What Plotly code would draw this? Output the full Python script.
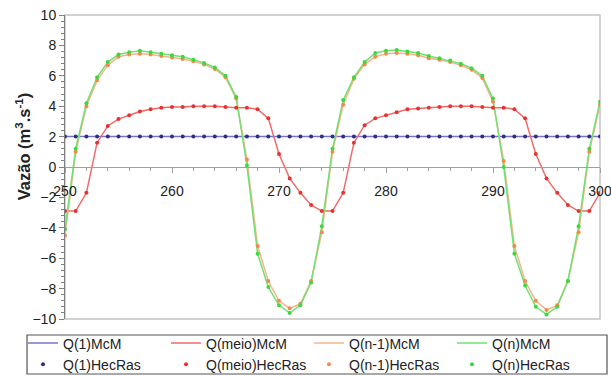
import plotly.graph_objects as go

t = list(range(250, 301))

q1 = [2.0] * 51

q_meio = [-2.9, -2.9, -1.7, 1.6, 2.7, 3.15, 3.4, 3.65, 3.8, 3.9, 3.95, 3.95, 4.0, 4.0, 4.0, 3.95, 3.9, 3.9, 3.8, 3.2, 0.85, -0.75, -1.7, -2.5,
          -2.9, -2.9, -1.7, 1.6, 2.75, 3.2, 3.4, 3.6, 3.8, 3.85, 3.9, 3.95, 4.0, 4.0, 4.0, 3.95, 3.9, 3.9, 3.8, 3.2, 0.85, -0.75, -1.7, -2.5,
          -2.9, -2.9, -1.7]

q_n1 = [-4.5, 1.0, 4.0, 5.7, 6.7, 7.25, 7.4, 7.45, 7.4, 7.3, 7.2, 7.1, 6.95, 6.75, 6.45, 5.9, 4.5, 0.5, -5.2, -7.5, -8.8, -9.3, -9.0, -7.5,
        -4.3, 1.0, 4.1, 5.8, 6.75, 7.25, 7.45, 7.5, 7.45, 7.35, 7.15, 7.05, 6.9, 6.7, 6.4, 5.85, 4.3, 0.4, -5.2, -7.5, -8.8, -9.4, -9.1, -7.5,
        -4.3, 1.0, 4.1]

q_n = [-4.1, 1.2, 4.2, 5.9, 6.9, 7.4, 7.55, 7.65, 7.55, 7.45, 7.35, 7.25, 7.05, 6.85, 6.55, 6.0, 4.6, 0.1, -5.7, -7.9, -9.1, -9.6, -9.1, -7.6,
       -3.9, 1.2, 4.4, 5.9, 6.9, 7.5, 7.65, 7.7, 7.6, 7.5, 7.3, 7.15, 7.0, 6.8, 6.5, 6.0, 4.5, 0.0, -5.7, -7.8, -9.2, -9.7, -9.2, -7.5,
       -3.9, 1.2, 4.3]

names_mcm = ["Q(1)McM", "Q(meio)McM", "Q(n-1)McM", "Q(n)McM"]
names_hec = ["Q(1)HecRas", "Q(meio)HecRas", "Q(n-1)HecRas", "Q(n)HecRas"]
series = [q1, q_meio, q_n1, q_n]
line_colors = ["#7474cc", "#f06a6a", "#f5b48e", "#72e072"]
marker_colors = ["#2e2e88", "#e83232", "#f28a4a", "#3ed83e"]

fig = go.Figure()
for name, ys, c in zip(names_mcm, series, line_colors):
    fig.add_trace(go.Scatter(x=t, y=ys, mode="lines", name=name,
                             line=dict(color=c, width=1.5)))
for name, ys, c in zip(names_hec, series, marker_colors):
    fig.add_trace(go.Scatter(x=t, y=ys, mode="markers", name=name,
                             marker=dict(color=c, size=4)))

font = dict(family="Arial, Liberation Sans, sans-serif", size=14, color="#222")

fig.update_layout(
    width=611, height=376,
    margin=dict(l=65, r=11, t=15, b=57, autoexpand=False),
    paper_bgcolor="white", plot_bgcolor="white",
    font=font,
    showlegend=True,
    legend=dict(orientation="h", x=-0.0785, y=-0.028, xanchor="left", yanchor="top",
                entrywidth=98, entrywidthmode="pixels",
                borderwidth=0, bgcolor="rgba(0,0,0,0)", font=dict(size=14),
                tracegroupgap=0, itemwidth=30),
    xaxis=dict(range=[250, 300], anchor="free", position=0.5,
               tick0=250, dtick=10, showline=True, linecolor="#a0a0a0", linewidth=1,
               ticks="outside", ticklen=5, tickcolor="#a0a0a0", ticklabelstandoff=6,
               ticklabeloverflow="allow",
               minor=dict(dtick=2, ticks="outside", ticklen=3, tickcolor="#a0a0a0"),
               showgrid=False, zeroline=False, tickfont=font),
    xaxis2=dict(range=[250, 300], overlaying="x", anchor="free", position=0.5,
                tick0=250, dtick=10, ticks="inside", ticklen=5, tickcolor="#a0a0a0",
                showticklabels=False, showgrid=False, zeroline=False, showline=False),
    yaxis=dict(range=[-10, 10], dtick=2, showline=True, linecolor="#808080", linewidth=1,
               ticks="outside", ticklen=5, tickcolor="#808080",
               minor=dict(dtick=0.4, ticks="outside", ticklen=3, tickcolor="#808080"),
               showgrid=False, zeroline=False, tickfont=font),
    yaxis2=dict(range=[-10, 10], overlaying="y", anchor="x", dtick=2,
                ticks="inside", ticklen=5, tickcolor="#808080",
                minor=dict(dtick=0.4, ticks="inside", ticklen=3, tickcolor="#808080"),
                showticklabels=False, showgrid=False, zeroline=False, showline=False),
    shapes=[dict(type="rect", xref="paper", yref="paper", x0=0, x1=1, y0=0, y1=1,
                 line=dict(color="#c4c4c4", width=1.5), layer="below"),
            dict(type="rect", xref="paper", yref="paper", x0=-0.071, x1=1.0131,
                 y0=-0.0526, y1=-0.1809, line=dict(color="#555", width=1.2))],
    annotations=[dict(text="<b>Vazão (m<sup>3</sup>.s<sup>-1</sup>)</b>", textangle=-90,
                      xref="paper", yref="paper", x=-0.078, y=0.569,
                      xanchor="center", yanchor="middle", showarrow=False,
                      font=dict(family="Arial, Liberation Sans, sans-serif", size=16.5, color="#222"))],
)

fig.write_html("out.html", config={"displayModeBar": False},
               post_script="document.body.style.margin='0';document.body.style.overflow='hidden';")
